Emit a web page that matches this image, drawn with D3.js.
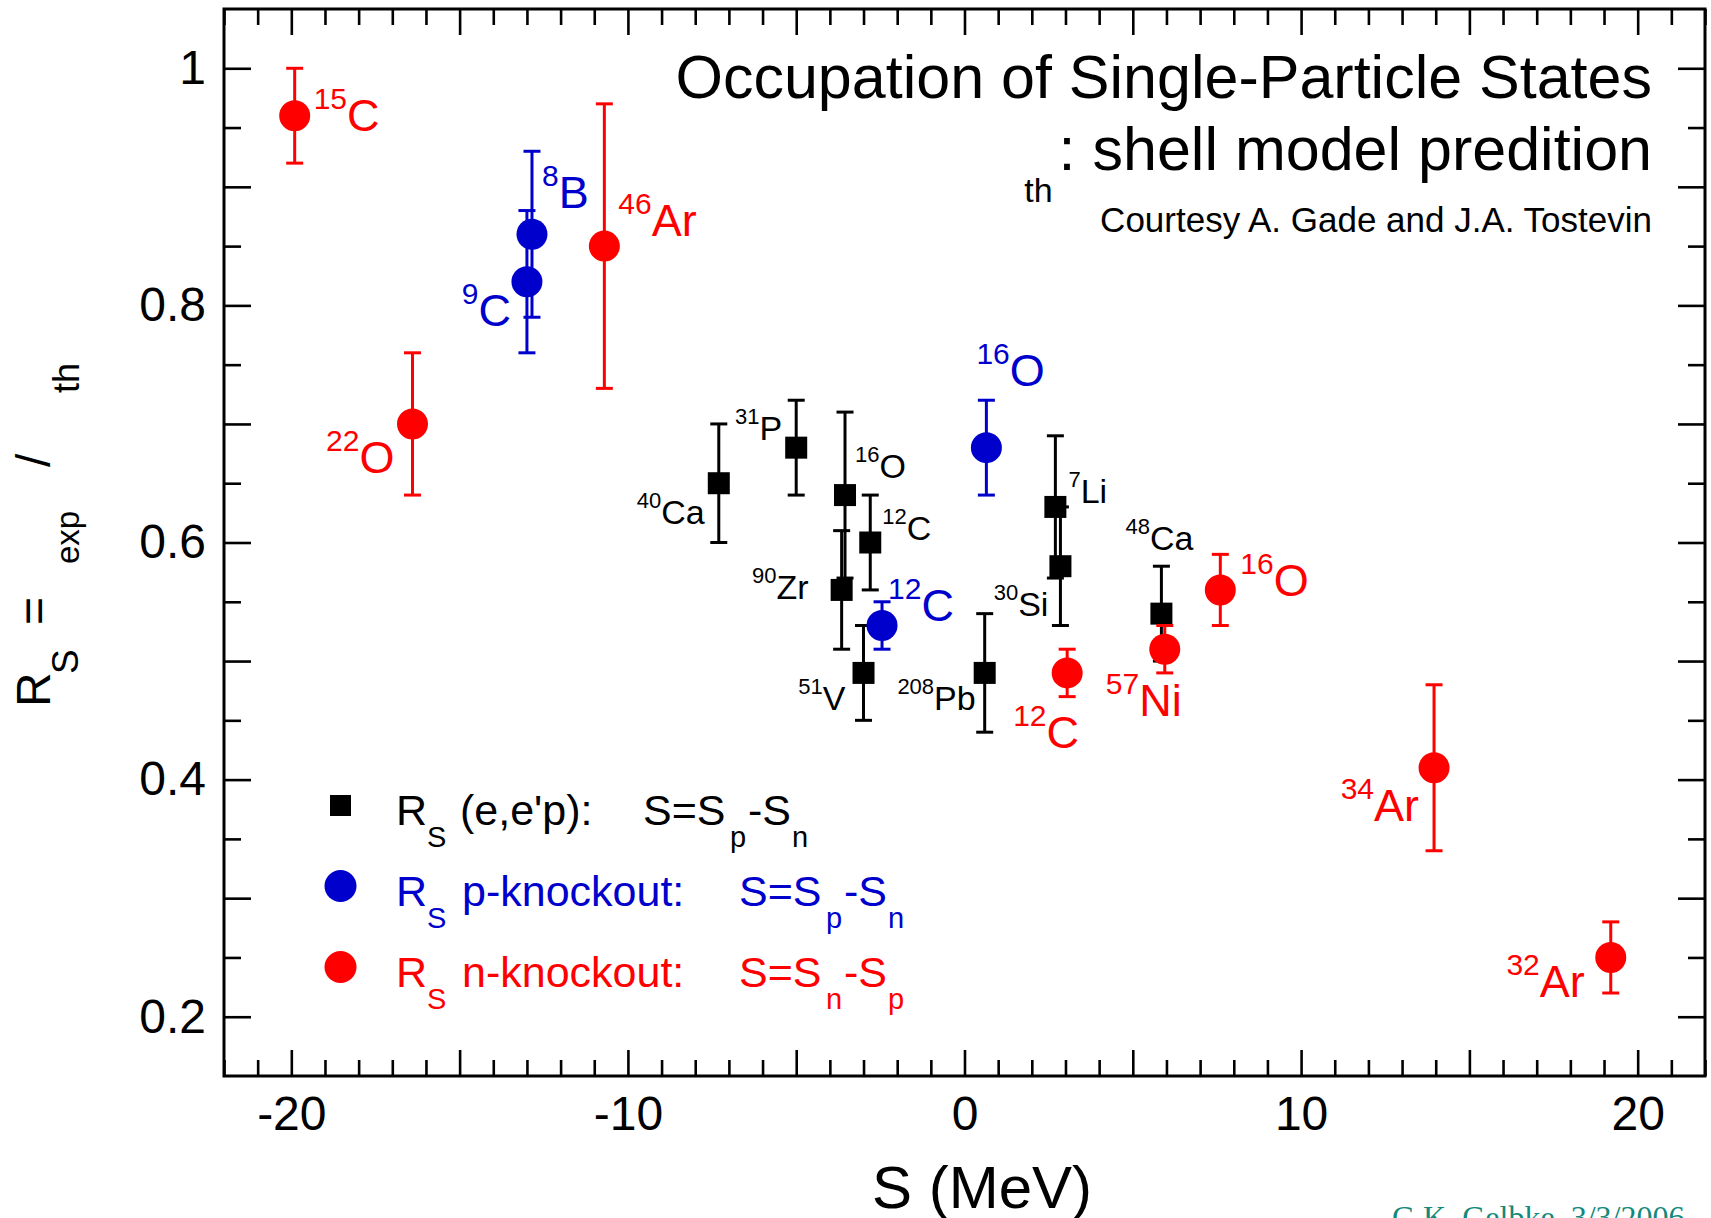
<!DOCTYPE html>
<html>
<head>
<meta charset="utf-8">
<script src="https://cdn.jsdelivr.net/npm/d3@7"></script>
<style>
  body { margin: 0; background: #fff; }
  svg { display: block; font-family: 'Liberation Sans', Arial, Helvetica, sans-serif; }
</style>
</head>
<body>
<svg id="chart" width="1711" height="1218"></svg>
<script>
// (e,e'p) results
const eepMass = ['40', '31', '16', '12', '90', '51', '208', '7', '30', '48'];
const eepElem = ['Ca', 'P', 'O', 'C', 'Zr', 'V', 'Pb', 'Li', 'Si', 'Ca'];
const eepS = [-7.3, -5.0, -3.55, -2.8, -3.65, -3.0, 0.6, 2.7, 2.85, 5.85];
const eepR = [0.65, 0.68, 0.64, 0.60, 0.56, 0.49, 0.49, 0.63, 0.58, 0.54];
const eepErr = [0.05, 0.04, 0.07, 0.04, 0.05, 0.04, 0.05, 0.06, 0.05, 0.04];

// proton knockout
const pMass = ['8', '9', '16', '12'];
const pElem = ['B', 'C', 'O', 'C'];
const pS = [-12.85, -13.0, 0.65, -2.45];
const pR = [0.86, 0.82, 0.68, 0.53];
const pErr = [0.07, 0.06, 0.04, 0.02];

// neutron knockout
const nMass = ['15', '22', '46', '12', '57', '16', '34', '32'];
const nElem = ['C', 'O', 'Ar', 'C', 'Ni', 'O', 'Ar', 'Ar'];
const nS = [-19.9, -16.4, -10.7, 3.05, 5.95, 7.6, 13.95, 19.2];
const nR = [0.96, 0.70, 0.85, 0.49, 0.51, 0.56, 0.41, 0.25];
const nErr = [0.04, 0.06, 0.12, 0.02, 0.02, 0.03, 0.07, 0.03];

// axis ticks
const xMajor = d3.range(-20, 21, 5);
const xMinor = d3.range(-22, 23, 1).filter(function (d) { return d % 5 !== 0; });
const yMajor = d3.range(2, 11).map(function (i) { return i / 10; });
const yMinor = d3.range(2, 10).map(function (i) { return i / 10 + 0.05; });

// where each isotope label sits relative to its marker: [dx, dy, anchor]
const eepLabelPos = [[-14, 41, 'end'], [-14, -8, 'end'], [10, -17, 'start'], [12, -3, 'start'], [-33, 9, 'end'],
  [-18, 37, 'end'], [-9, 37, 'end'], [13, -4, 'start'], [-12, 50, 'end'], [-36, -64, 'start']];
const pLabelPos = [[10, -26, 'start'], [-16, 44, 'end'], [-10, -62, 'start'], [6, -4, 'start']];
const nLabelPos = [[19, 15, 'start'], [-18, 49, 'end'], [14, -10, 'start'], [-54, 75, 'start'],
  [-59, 67, 'start'], [20, 6, 'start'], [-15, 53, 'end'], [-26, 40, 'end']];

const BLUE = '#0000cc';
const RED = '#ff0000';

const svg = d3.select('#chart');
const margin = { top: 9, right: 6, bottom: 142, left: 224 };
const width = +svg.attr('width') - margin.left - margin.right;
const height = +svg.attr('height') - margin.top - margin.bottom;

const x = d3.scaleLinear().domain([-22, 22]).range([0, width]);
const y = d3.scaleLinear().domain([0.15, 1.05]).range([height, 0]);

const g = svg.append('g').attr('transform', 'translate(' + margin.left + ',' + margin.top + ')');

// axes: ticks point inwards on all four sides
function styleAxis (sel) {
  sel.select('.domain').remove();
  sel.selectAll('.tick line').attr('stroke', '#000').attr('stroke-width', 2.6);
  sel.selectAll('.tick text').attr('fill', '#000').attr('font-size', 48)
    .attr('font-family', "'Liberation Sans', Arial, sans-serif");
}

g.append('g').attr('transform', 'translate(0,' + height + ')')
  .call(d3.axisBottom(x).tickValues(xMajor).tickSize(-26).tickPadding(20)
    .tickFormat(function (d) { return d % 10 === 0 ? String(d) : ''; }))
  .call(styleAxis);
g.append('g').attr('transform', 'translate(0,' + height + ')')
  .call(d3.axisBottom(x).tickValues(xMinor).tickSize(-16).tickFormat(''))
  .call(styleAxis);
g.append('g')
  .call(d3.axisTop(x).tickValues(xMajor).tickSize(-26).tickFormat(''))
  .call(styleAxis);
g.append('g')
  .call(d3.axisTop(x).tickValues(xMinor).tickSize(-16).tickFormat(''))
  .call(styleAxis);

g.append('g')
  .call(d3.axisLeft(y).tickValues(yMajor).tickSize(-27).tickPadding(18)
    .tickFormat(function (d) {
      const k = Math.round(d * 10);
      if (k % 2 !== 0) return '';
      return k === 10 ? '1' : d.toFixed(1);
    }))
  .call(styleAxis);
g.append('g')
  .call(d3.axisLeft(y).tickValues(yMinor).tickSize(-17).tickFormat(''))
  .call(styleAxis);
g.append('g').attr('transform', 'translate(' + width + ',0)')
  .call(d3.axisRight(y).tickValues(yMajor).tickSize(-27).tickFormat(''))
  .call(styleAxis);
g.append('g').attr('transform', 'translate(' + width + ',0)')
  .call(d3.axisRight(y).tickValues(yMinor).tickSize(-17).tickFormat(''))
  .call(styleAxis);

// frame
g.append('rect')
  .attr('width', width).attr('height', height)
  .attr('fill', 'none').attr('stroke', '#000').attr('stroke-width', 3);

// one data series: error bars, markers and isotope labels
function drawSeries (sVals, rVals, errs, mass, elem, labelPos, color, shape, big) {
  const data = sVals.map(function (s, i) {
    return { s: s, r: rVals[i], e: errs[i], mass: mass[i], elem: elem[i], pos: labelPos[i] };
  });
  const grp = g.append('g');

  const bars = grp.selectAll('.err').data(data).enter().append('g')
    .attr('stroke', color).attr('stroke-width', 3);
  bars.append('line')
    .attr('x1', function (d) { return x(d.s); }).attr('x2', function (d) { return x(d.s); })
    .attr('y1', function (d) { return y(d.r + d.e); }).attr('y2', function (d) { return y(d.r - d.e); });
  [1, -1].forEach(function (sign) {
    bars.append('line')
      .attr('x1', function (d) { return x(d.s) - 8.5; }).attr('x2', function (d) { return x(d.s) + 8.5; })
      .attr('y1', function (d) { return y(d.r + sign * d.e); })
      .attr('y2', function (d) { return y(d.r + sign * d.e); });
  });

  if (shape === 'square') {
    grp.selectAll('.mk').data(data).enter().append('rect')
      .attr('x', function (d) { return x(d.s) - 11; })
      .attr('y', function (d) { return y(d.r) - 11; })
      .attr('width', 22).attr('height', 22)
      .attr('fill', color);
  } else {
    grp.selectAll('.mk').data(data).enter().append('circle')
      .attr('cx', function (d) { return x(d.s); })
      .attr('cy', function (d) { return y(d.r); })
      .attr('r', 15.5)
      .attr('fill', color);
  }

  const fs = big ? 45 : 34;
  const sup = big ? 30 : 22;
  const raise = big ? 22 : 16;
  const lab = grp.selectAll('.lab').data(data).enter().append('text')
    .attr('x', function (d) { return x(d.s) + d.pos[0]; })
    .attr('y', function (d) { return y(d.r) + d.pos[1]; })
    .attr('text-anchor', function (d) { return d.pos[2]; })
    .attr('fill', color)
    .attr('font-size', fs);
  lab.append('tspan').attr('font-size', sup).attr('dy', -raise)
    .text(function (d) { return d.mass; });
  lab.append('tspan').attr('dy', raise)
    .text(function (d) { return d.elem; });
}

drawSeries(eepS, eepR, eepErr, eepMass, eepElem, eepLabelPos, '#000', 'square', false);
drawSeries(pS, pR, pErr, pMass, pElem, pLabelPos, BLUE, 'circle', true);
drawSeries(nS, nR, nErr, nMass, nElem, nLabelPos, RED, 'circle', true);

// title block, upper right
svg.append('text')
  .attr('x', 1652).attr('y', 98).attr('text-anchor', 'end')
  .attr('font-size', 61)
  .text('Occupation of Single-Particle States');
const t2 = svg.append('text')
  .attr('x', 1652).attr('y', 170).attr('text-anchor', 'end')
  .attr('font-size', 61);
t2.append('tspan').attr('font-size', 34).attr('dy', 32).text('th');
t2.append('tspan').attr('dy', -32).attr('dx', 6).text(': shell model predition');
svg.append('text')
  .attr('x', 1652).attr('y', 232).attr('text-anchor', 'end')
  .attr('font-size', 35)
  .text('Courtesy A. Gade and J.A. Tostevin');

// legend
const legend = svg.append('g');
legend.append('rect').attr('x', 330).attr('y', 795).attr('width', 21).attr('height', 21).attr('fill', '#000');
legend.append('circle').attr('cx', 340.5).attr('cy', 886).attr('r', 16).attr('fill', BLUE);
legend.append('circle').attr('cx', 340.5).attr('cy', 967).attr('r', 16).attr('fill', RED);

const legendRows = [
  { y: 825, color: '#000', parts: [['R', 396, 0], ['S', 396 + 31, 1], ['(e,e\'p):', 460, 0], ['S=S', 643, 0], ['p', 730, 1], ['-S', 748, 0], ['n', 792, 1]] },
  { y: 906, color: BLUE, parts: [['R', 396, 0], ['S', 396 + 31, 1], ['p-knockout:', 462, 0], ['S=S', 739, 0], ['p', 826, 1], ['-S', 844, 0], ['n', 888, 1]] },
  { y: 987, color: RED, parts: [['R', 396, 0], ['S', 396 + 31, 1], ['n-knockout:', 462, 0], ['S=S', 739, 0], ['n', 826, 1], ['-S', 844, 0], ['p', 888, 1]] }
];
legendRows.forEach(function (row) {
  const t = legend.append('text').attr('fill', row.color).attr('font-size', 43);
  row.parts.forEach(function (p) {
    t.append('tspan')
      .attr('x', p[1])
      .attr('y', row.y + (p[2] ? 22 : 0))
      .attr('font-size', p[2] ? 29 : 43)
      .text(p[0]);
  });
});

// axis titles
svg.append('text')
  .attr('x', 982).attr('y', 1208).attr('text-anchor', 'middle')
  .attr('font-size', 60)
  .text('S (MeV)');

const yt = svg.append('text')
  .attr('transform', 'translate(50,707) rotate(-90)')
  .attr('font-size', 48);
[['R', 0, 0, 48], ['S', 33, 28, 37], ['=', 82, 0, 48], ['exp', 143, 29, 33], ['/', 240, 0, 48], ['th', 314, 29, 36]]
  .forEach(function (p) {
    yt.append('tspan').attr('x', p[1]).attr('y', p[2]).attr('font-size', p[3]).text(p[0]);
  });

// footer stamp, runs off the bottom edge
svg.append('text')
  .attr('x', 1392).attr('y', 1228)
  .attr('font-family', "'Liberation Serif', 'Times New Roman', serif")
  .attr('font-size', 32)
  .attr('fill', '#12897a')
  .text('G.K. Gelbke, 3/3/2006, ');
</script>
</body>
</html>
